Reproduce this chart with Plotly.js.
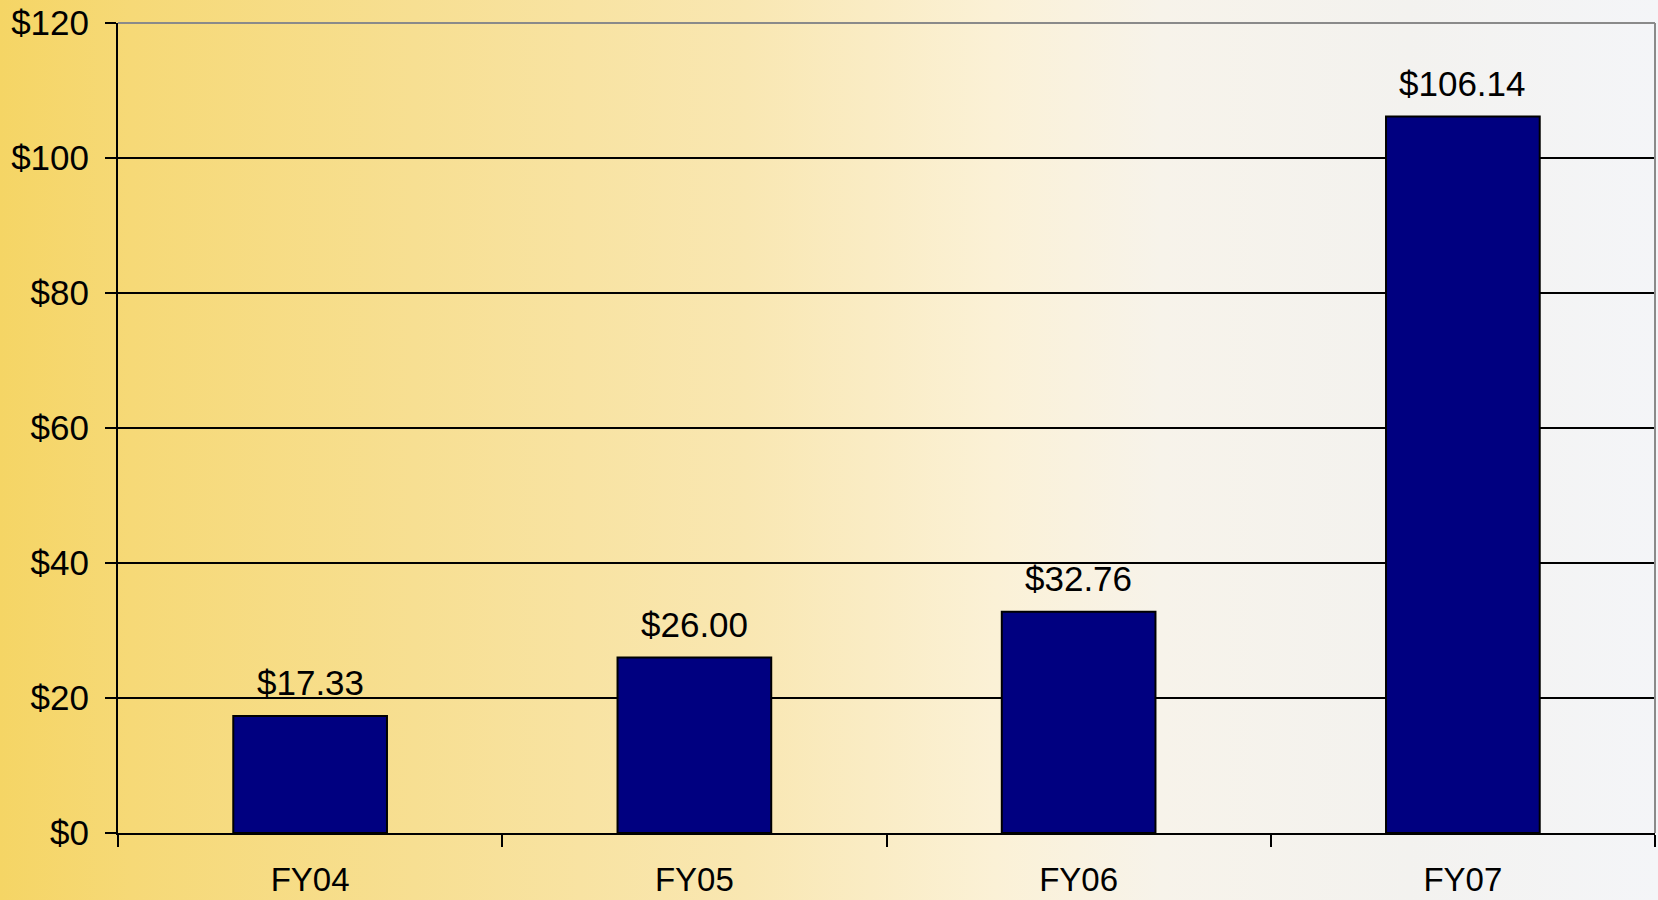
<!DOCTYPE html>
<html>
<head>
<meta charset="utf-8">
<script src="https://cdn.plot.ly/plotly-3.0.1.min.js"></script>
<style>
  html, body { margin:0; padding:0; width:1658px; height:900px; overflow:hidden; }
  body {
    background: linear-gradient(90deg, #F5D565 0%, #F6D977 8%, #F7DF92 25%, #F9E7B2 45%, #FBF1D6 60%, #F7F3EA 70%, #F3F2EF 85%, #F4F5F8 100%);
  }
  #chart { width:1658px; height:900px; }
</style>
</head>
<body>
<div id="chart"></div>
<script>
const categories = ["FY04", "FY05", "FY06", "FY07"];
const values = [17.33, 26.00, 32.76, 106.14];
const valueLabels = ["$17.33", "$26.00", "$32.76", "$106.14"];
const yTickVals = [0, 20, 40, 60, 80, 100, 120];
const yTickText = ["$0", "$20", "$40", "$60", "$80", "$100", "$120"];

const fontFam = "Liberation Sans, Arial, sans-serif";

const trace = {
  type: "bar",
  x: categories,
  y: values,
  marker: { color: "#000080", line: { color: "#000000", width: 2 } },
  hoverinfo: "skip"
};

const annotations = categories.map((c, i) => ({
  x: c, y: values[i], xref: "x", yref: "y",
  text: valueLabels[i], showarrow: false,
  yanchor: "bottom", yshift: 12,
  font: { family: fontFam, size: 35, color: "#000000" }
}));

const layout = {
  width: 1658, height: 900,
  paper_bgcolor: "rgba(0,0,0,0)",
  plot_bgcolor: "rgba(0,0,0,0)",
  margin: { l: 118, r: 3, t: 23, b: 67 },
  bargap: 0.6,
  showlegend: false,
  xaxis: {
    type: "category",
    tickson: "boundaries",
    ticks: "outside", ticklen: 12, tickwidth: 2, tickcolor: "#000",
    showline: true, linecolor: "#000", linewidth: 2,
    showgrid: false,
    ticklabelstandoff: 16,
    tickfont: { family: fontFam, size: 33, color: "#000" }
  },
  yaxis: {
    range: [0, 120],
    tickvals: yTickVals, ticktext: yTickText,
    ticks: "outside", ticklen: 11, tickwidth: 2, tickcolor: "#000",
    showline: true, linecolor: "#000", linewidth: 2,
    showgrid: true, gridcolor: "#000", gridwidth: 1.5,
    zeroline: false,
    ticklabelstandoff: 9,
    tickfont: { family: fontFam, size: 35, color: "#000" }
  },
  annotations: annotations,
  shapes: [
    { type: "line", xref: "paper", yref: "paper", x0: 0, x1: 1, y0: 1, y1: 1,
      line: { color: "#8a8a8a", width: 2 }, layer: "above" },
    { type: "line", xref: "paper", yref: "paper", x0: 1, x1: 1, y0: 0, y1: 1,
      line: { color: "#8a8a8a", width: 2 }, layer: "above" }
  ]
};

Plotly.newPlot("chart", [trace], layout, { displayModeBar: false, staticPlot: true });
</script>
</body>
</html>
